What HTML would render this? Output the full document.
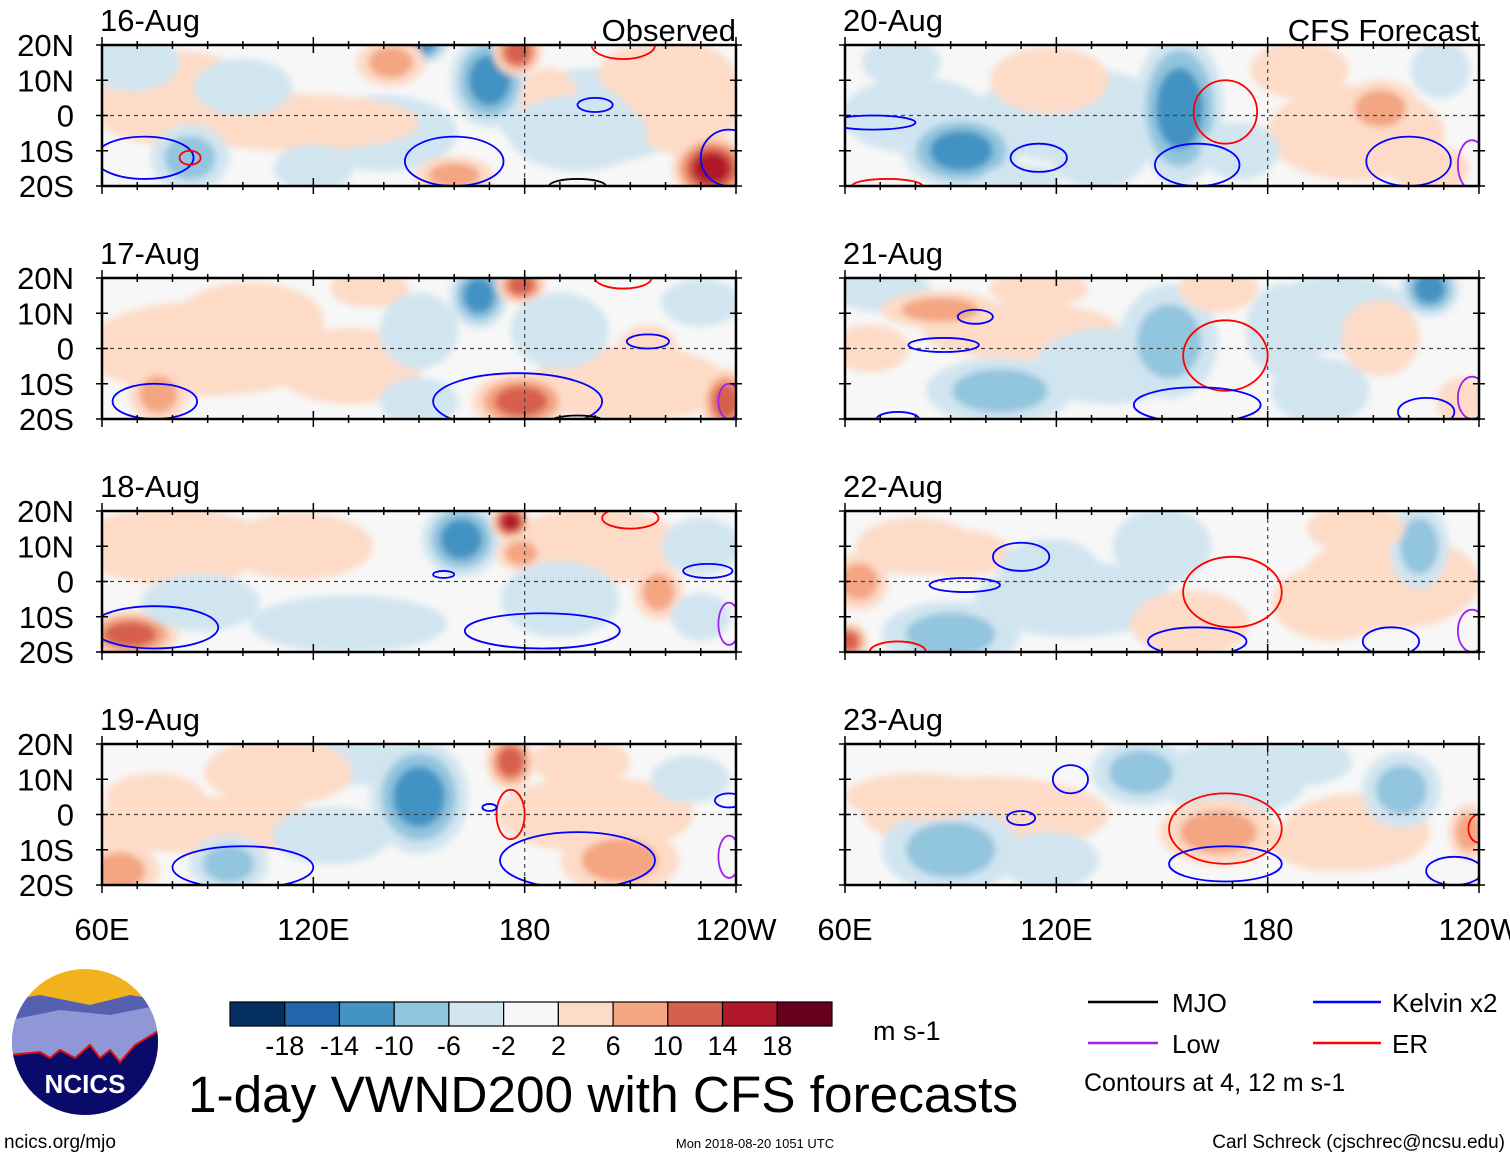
<!DOCTYPE html>
<html><head><meta charset="utf-8">
<style>
html,body{margin:0;padding:0;background:#fff;}
svg{display:block;font-family:"Liberation Sans",sans-serif;}
</style></head>
<body>
<svg id="chart" width="1510" height="1158" viewBox="0 0 1510 1158" xmlns="http://www.w3.org/2000/svg">
<defs>
<filter id="blur" x="-30%" y="-30%" width="160%" height="160%"><feGaussianBlur stdDeviation="3.5"/></filter>
</defs>
<g id="panels"></g>
<g id="colorbar"></g>
<text x="873" y="1040" font-size="27">m s-1</text>
<text x="188" y="1112" font-size="51" textLength="830" lengthAdjust="spacingAndGlyphs">1-day VWND200 with CFS forecasts</text>
<g font-size="26">
<line x1="1088" y1="1002" x2="1158" y2="1002" stroke="#000" stroke-width="2.5"/>
<text x="1172" y="1012">MJO</text>
<line x1="1313" y1="1002" x2="1381" y2="1002" stroke="#0000ff" stroke-width="2.5"/>
<text x="1392" y="1012">Kelvin x2</text>
<line x1="1088" y1="1043" x2="1158" y2="1043" stroke="#a020f0" stroke-width="2.5"/>
<text x="1172" y="1053">Low</text>
<line x1="1313" y1="1043" x2="1381" y2="1043" stroke="#ff0000" stroke-width="2.5"/>
<text x="1392" y="1053">ER</text>
<text x="1084" y="1091" font-size="25">Contours at 4, 12 m s-1</text>
</g>
<g>
<clipPath id="lc"><circle cx="85" cy="1042" r="73"/></clipPath>
<g clip-path="url(#lc)">
<rect x="10" y="968" width="150" height="150" fill="#f2b21e"/>
<path d="M10 1000 L40 995 L90 1005 L130 995 L160 1000 L160 1118 L10 1118Z" fill="#5560b0"/>
<path d="M10 1020 L60 1010 L110 1015 L160 1005 L160 1118 L10 1118Z" fill="#8f97d6"/>
<path d="M10 1055 L40 1052 L50 1058 L60 1050 L75 1058 L90 1045 L100 1058 L110 1050 L120 1062 L135 1045 L160 1030 L160 1118 L10 1118Z" fill="#0a0a6a" stroke="#e01010" stroke-width="2"/>
</g>
<text x="85" y="1093" font-size="26" font-weight="bold" fill="#fff" text-anchor="middle">NCICS</text>
</g>
<text x="4" y="1148" font-size="19">ncics.org/mjo</text>
<text x="755" y="1148" font-size="13" text-anchor="middle">Mon 2018-08-20 1051 UTC</text>
<text x="1505" y="1148" font-size="19" text-anchor="end">Carl Schreck (cjschrec@ncsu.edu)</text>
</svg>
<script>
const NS="http://www.w3.org/2000/svg";
// colour scale
const levels=[-18,-14,-10,-6,-2,2,6,10,14,18];
const binColors=["#053061","#2166ac","#4393c3","#92c5de","#d1e5f0","#f7f7f7","#fddbc7","#f4a582","#d6604d","#b2182b","#67001f"];
// panel titles
const dates=["16-Aug","17-Aug","18-Aug","19-Aug","20-Aug","21-Aug","22-Aug","23-Aug"];
const latTicks=["20N","10N","0","10S","20S"];
const latVals=[20,10,0,-10,-20];
const lonTicks=["60E","120E","180","120W"];
const lonVals=[60,120,180,240];
// anomaly blobs per panel: [lon, lat, value, radiusLon, radiusLat]
const blobs0=[[80,5,4,18,10],[200,0,-4,20,10],[225,5,4,12,12],[140,-5,-4,15,8],[115,-2,6,25,6],[68,15,-6,10,6],[85,-12,-10,8,7],[150,20,-12,6,4],[170,10,-14,8,10],[178,18,14,5,5],[142,15,8,7,5],[187,4,6,6,7],[195,-5,-6,14,8],[215,12,6,10,6],[233,-15,18,8,7],[120,-15,-6,8,5],[100,8,-4,10,6],[160,-17,10,8,4]];
const blobs1=[[90,0,4,25,10],[130,-5,4,15,8],[210,-10,4,20,8],[167,15,-14,6,7],[179,18,14,5,4],[179,-15,14,10,6],[76,-13,10,6,6],[190,5,-6,10,8],[136,17,6,8,4],[215,0,6,6,5],[237,-15,14,5,7],[150,-15,-6,8,5],[230,13,-6,8,5],[102,8,6,15,8],[150,5,-6,8,8]];
const blobs2=[[80,10,4,20,8],[200,10,4,18,8],[130,-12,-4,20,6],[162,12,-14,8,8],[176,17,18,4,4],[179,8,10,5,4],[68,-15,14,10,5],[190,-5,-6,12,8],[218,-3,10,5,6],[230,10,-6,8,6],[116,10,6,15,7],[88,-6,-6,12,6],[230,-10,-6,6,5]];
const blobs3=[[90,-3,4,25,6],[200,0,4,20,8],[130,15,-4,15,5],[150,5,-14,10,12],[176,15,14,5,6],[207,-13,10,12,7],[65,-16,10,8,6],[96,-14,-10,8,6],[125,-6,-6,12,6],[196,15,6,10,5],[227,10,-6,8,5],[110,12,6,15,7],[75,5,6,10,5]];
const blobs4=[[125,0,-4,20,10],[205,-5,4,18,10],[80,0,-4,15,8],[155,2,-14,9,16],[93,-10,-14,12,8],[132,-10,-6,10,8],[212,2,10,8,6],[189,13,6,10,6],[76,15,-6,8,5],[229,13,-6,6,6],[118,10,6,12,7],[226,-15,6,8,5],[110,-18,-6,8,3],[172,-10,-6,8,6]];
const blobs5=[[110,5,4,20,6],[200,10,-4,15,8],[135,-5,-4,15,8],[226,17,-14,6,6],[152,2,-10,10,12],[104,-12,-10,15,7],[70,17,-6,10,5],[87,11,8,12,4],[67,0,6,8,5],[166,17,6,8,5],[212,3,6,8,8],[195,-12,-6,10,7],[235,-15,6,5,5],[115,17,6,10,4],[185,5,-6,8,10]];
const blobs6=[[125,-5,-4,20,8],[215,0,4,18,10],[80,10,4,12,6],[223,10,-10,6,9],[150,10,-6,10,8],[90,-15,-10,14,7],[158,-12,6,12,7],[64,0,10,6,6],[93,8,6,10,5],[198,-6,6,12,8],[118,4,-6,10,6],[61,-17,14,4,4],[205,15,6,10,5]];
const blobs7=[[100,0,4,25,8],[205,-5,4,15,8],[170,10,-4,15,8],[144,12,-10,10,7],[218,7,-10,8,8],[90,-10,-10,14,9],[166,-5,10,12,7],[81,5,6,15,5],[198,-8,6,12,6],[237,-5,10,4,6],[118,-13,-6,10,6],[190,15,-6,10,5]];
// contour lines per panel: [type, lon, lat, radiusLon, radiusLat]
const cont0=[["k",72,-12,14,6],["k",160,-13,14,7],["k",200,3,5,2],["e",85,-12,3,2],["e",208,20,9,4],["k",238,-12,8,8],["m",195,-20,8,2]];
const cont1=[["k",178,-15,24,8],["k",75,-15,12,5],["k",215,2,6,2],["e",208,20,8,3],["m",195,-21,8,2],["l",238,-15,3,5]];
const cont2=[["k",75,-13,18,6],["k",185,-14,22,5],["e",210,18,8,3],["k",232,3,7,2],["k",157,2,3,1],["l",238,-12,3,6]];
const cont3=[["k",100,-15,20,6],["k",195,-13,22,8],["e",176,0,4,7],["k",170,2,2,1],["k",238,4,4,2],["l",238,-12,3,6]];
const cont4=[["e",168,1,9,9],["k",68,-2,12,2],["k",115,-12,8,4],["k",160,-14,12,6],["k",220,-13,12,7],["l",238,-14,4,7],["e",72,-20,10,2]];
const cont5=[["e",168,-2,12,10],["k",88,1,10,2],["k",97,9,5,2],["k",160,-16,18,5],["k",225,-18,8,4],["k",75,-20,6,2],["l",238,-14,4,6]];
const cont6=[["e",170,-3,14,10],["k",110,7,8,4],["k",94,-1,10,2],["k",160,-17,14,4],["k",215,-17,8,4],["l",238,-14,4,6],["e",75,-20,8,3]];
const cont7=[["e",168,-4,16,10],["k",124,10,5,4],["k",168,-14,16,5],["k",233,-16,8,4],["k",110,-1,4,2],["e",240,-4,3,4]];
const allBlobs=[blobs0,blobs1,blobs2,blobs3,blobs4,blobs5,blobs6,blobs7];
const allCont=[cont0,cont1,cont2,cont3,cont4,cont5,cont6,cont7];
const contColor={k:"#0000ff",e:"#ff0000",m:"#000000",l:"#a020f0"};

const panelW=634, panelH=141;
const lefts=[102,845], tops=[45,278,511,744];
function colorOf(v){let i=0;while(i<levels.length&&v>levels[i])i++;return binColors[i];}
function el(tag,attrs,parent){const e=document.createElementNS(NS,tag);for(const k in attrs)e.setAttribute(k,attrs[k]);parent.appendChild(e);return e;}

const root=document.getElementById('panels');
for(let p=0;p<8;p++){
  const col=p<4?0:1,row=p%4;
  const x0=lefts[col],y0=tops[row];
  const xs=lon=>x0+(lon-60)/180*panelW;
  const ys=lat=>y0+(20-lat)/40*panelH;
  const g=el('g',{},root);
  
  
  const cid='clip'+p;
  const cp=el('clipPath',{id:cid},g);
  el('rect',{x:x0,y:y0,width:panelW,height:panelH},cp);
  const inner=el('g',{'clip-path':'url(#'+cid+')'},g);
  el('rect',{x:x0,y:y0,width:panelW,height:panelH,fill:"#f7f7f7"},inner);
  const bg=el('g',{filter:'url(#blur)'},inner);
  allBlobs[p].forEach(b=>{
    const sx=panelW/180*1.4, sy=panelH/40*1.35;
    const steps=[];for(let v=Math.sign(b[2])*4;Math.abs(v)<=Math.abs(b[2]);v+=Math.sign(b[2])*4)steps.push(v);
    steps.forEach((v,i)=>{
      const f=1-0.7*i/steps.length;
      const e=el('ellipse',{cx:xs(b[0]),cy:ys(b[1]),rx:b[3]*sx*f,ry:b[4]*sy*f,fill:colorOf(v)},bg);
      
      
    });
  });
  el('line',{x1:x0,y1:ys(0),x2:x0+panelW,y2:ys(0),stroke:"#444","stroke-dasharray":"4,4","stroke-width":1.2},inner);
  el('line',{x1:xs(180),y1:y0,x2:xs(180),y2:y0+panelH,stroke:"#444","stroke-dasharray":"4,4","stroke-width":1.2},inner);
  allCont[p].forEach(c=>{
    const e=el('ellipse',{cx:xs(c[1]),cy:ys(c[2]),rx:c[3]*panelW/180,ry:c[4]*panelH/40,fill:"none",stroke:contColor[c[0]],"stroke-width":1.8},inner);
    
    
  });
  el('rect',{x:x0,y:y0,width:panelW,height:panelH,fill:"none",stroke:"#000","stroke-width":2.5},g);
  for(let lon=60;lon<=240;lon+=10){
    const len=(lon%60===0)?8:4;
    el('line',{x1:xs(lon),y1:y0-len,x2:xs(lon),y2:y0+len,stroke:"#000","stroke-width":1.5},g);
    el('line',{x1:xs(lon),y1:y0+panelH-len,x2:xs(lon),y2:y0+panelH+len,stroke:"#000","stroke-width":1.5},g);
  }
  latVals.forEach(lat=>{
    el('line',{x1:x0-6,y1:ys(lat),x2:x0+6,y2:ys(lat),stroke:"#000","stroke-width":1.5},g);
    el('line',{x1:x0+panelW-6,y1:ys(lat),x2:x0+panelW+6,y2:ys(lat),stroke:"#000","stroke-width":1.5},g);
  });
  const t=el('text',{x:x0-2,y:y0-14,'font-size':31},g);t.textContent=dates[p];
  
  
  if(p===0||p===4){
    const lab=el('text',{x:x0+panelW,y:y0-4,'font-size':31,'text-anchor':'end'},g);
    lab.textContent=p===0?"Observed":"CFS Forecast";
    
    
  }
  if(col===0){
    latVals.forEach((lat,i)=>{
      const lt=el('text',{x:74,y:ys(lat)+11,'font-size':31,'text-anchor':'end'},g);
      lt.textContent=latTicks[i];
      
      
    });
  }
  if(row===3){
    lonVals.forEach((lon,i)=>{
      const xt=el('text',{x:xs(lon),y:y0+panelH+55,'font-size':31,'text-anchor':'middle'},g);
      xt.textContent=lonTicks[i];
      
      
    });
  }
}
const cb=document.getElementById('colorbar');
const cbx=230,cby=1002,cbw=602,cbh=24,bw=cbw/binColors.length;
binColors.forEach((c,i)=>{
  const r=el('rect',{x:cbx+i*bw,y:cby,width:bw,height:cbh,fill:c,stroke:"#000","stroke-width":1.2},cb);
  
  
});
levels.forEach((v,i)=>{
  const t=el('text',{x:cbx+(i+1)*bw,y:1055,'font-size':27,'text-anchor':'middle'},cb);
  t.textContent=String(v);
  
  
});
</script>
</body></html>
